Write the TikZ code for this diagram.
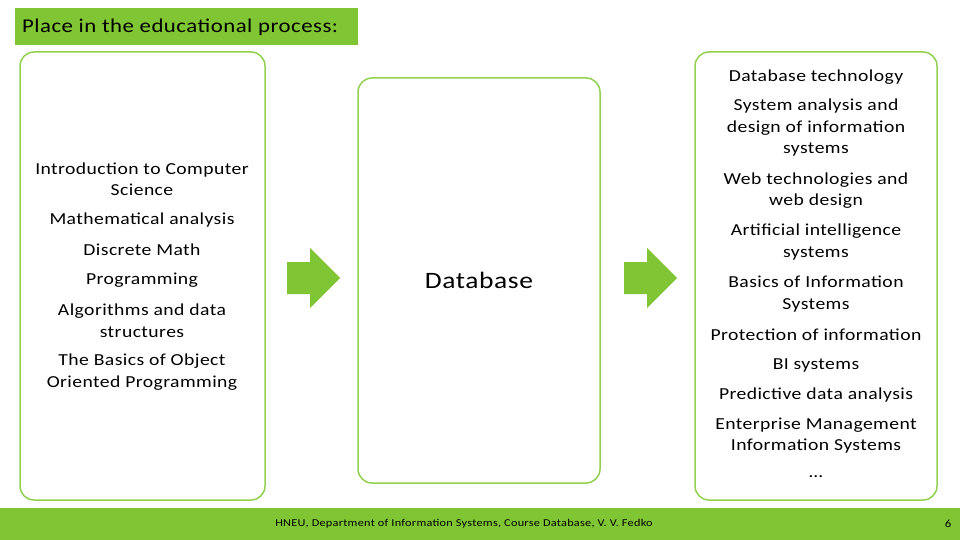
\documentclass[tikz,border=0pt]{standalone}
\usepackage{fontspec}
\setmainfont{Carlito}[FakeStretch=1.17,LetterSpace=2.5]
\definecolor{g}{RGB}{128,198,52}
\definecolor{gb}{RGB}{146,208,80}
\begin{document}
\begin{tikzpicture}[x=1pt,y=-1pt,
 box/.style={draw=gb,line width=1.5pt,rounded corners=14pt,fill=white},
 it/.style={align=center,font=\fontsize{16.8}{21.5}\selectfont,inner sep=0pt},
 arr/.style={fill=g,draw=none}]
\useasboundingbox (0,0) rectangle (960,540);
\fill[white] (0,0) rectangle (960,540);
\node[fill=g,minimum width=343pt,minimum height=37pt,anchor=north west,inner sep=0pt] (title) at (15,8) {};
\node[anchor=west,font=\fontsize{19.5}{22}\selectfont,inner sep=0pt] at (22,27) {Place in the educational process:};
\draw[box] (20,52) rectangle (265,500);
\draw[box] (358,78) rectangle (600,483);
\draw[box] (695,52) rectangle (937,500);
\node[font=\fontsize{23.5}{26}\selectfont] (db) at (479,280) {Database};
\foreach \x in {287,624}{
 \fill[arr] (\x,262) -- (\x+23,262) -- (\x+23,248) -- (\x+53,278) -- (\x+23,308) -- (\x+23,294) -- (\x,294) -- cycle;}
\node[it] at (142,179) {Introduction to Computer\\Science};
\node[it] at (142,220) {Mathematical analysis};
\node[it] at (142,250) {Discrete Math};
\node[it] at (142,280) {Programming};
\node[it] at (142,320.5) {Algorithms and data\\structures};
\node[it] at (142,372) {The Basics of Object\\Oriented Programming};
\node[it] at (816,77) {Database technology};
\node[it] at (816,128) {System analysis and\\design of information\\systems};
\node[it] at (816,190.5) {Web technologies and\\web design};
\node[it] at (816,242) {Artificial intelligence\\systems};
\node[it] at (816,294) {Basics of Information\\Systems};
\node[it] at (816,335) {Protection of information};
\node[it] at (816,365) {BI systems};
\node[it] at (816,395) {Predictive data analysis};
\node[it] at (816,435.5) {Enterprise Management\\Information Systems};
\node[it] at (816,477) {\dots};
\fill[g] (0,508) rectangle (960,540);
\node[font=\fontsize{10.5}{12}\selectfont] (foot) at (464,524) {HNEU, Department of Information Systems, Course Database, V. V. Fedko};
\node[font=\fontsize{11}{12}\selectfont] (pg) at (948,524) {6};
\end{tikzpicture}
\end{document}
